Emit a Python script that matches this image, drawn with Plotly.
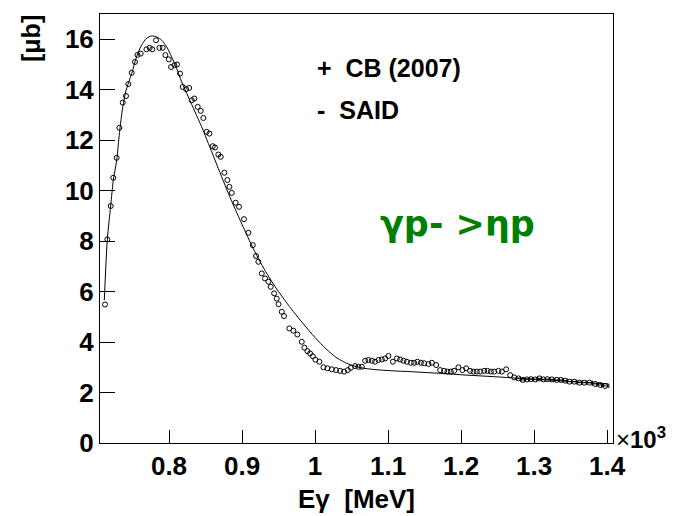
import plotly.graph_objects as go

# Crystal Barrel (2007) total cross section for gamma p -> eta p, photon energy in MeV
cb_energy = [
    712.4, 715.5, 720.2, 723.7, 728.3, 732.0, 736.6, 741.1, 744.3, 748.9,
    753.4, 756.8, 761.2, 769.1, 773.5, 777.1, 782.2, 786.9, 791.4, 795.0,
    799.7, 802.8, 807.4, 811.0, 815.1, 818.8, 823.5, 827.6, 831.1, 834.7,
    839.3, 843.4, 847.0, 851.6, 855.3, 859.9, 863.0, 867.6, 870.8, 875.8,
    879.9, 882.7, 885.9, 891.2, 895.9, 902.7, 908.7, 914.7, 919.2, 922.4,
    927.0, 931.5, 936.1, 939.3, 944.0, 947.5, 950.0, 954.4, 957.5, 964.8,
    970.3, 975.8, 981.8, 985.4, 989.5, 993.2, 996.9, 1000.5, 1005.9,
    1011.5, 1017.0, 1022.9, 1028.8, 1034.3, 1039.8, 1044.8, 1049.0, 1054.8,
    1059.4, 1064.0, 1068.6, 1073.1, 1077.7, 1082.2, 1086.8, 1091.4, 1096.0,
    1100.5, 1106.5, 1112.0, 1116.5, 1121.1, 1125.7, 1131.2, 1135.7, 1140.2,
    1144.9, 1149.4, 1155.3, 1159.9, 1165.8, 1171.3, 1176.7, 1181.3, 1185.9,
    1190.4, 1196.3, 1201.8, 1206.9, 1212.3, 1216.9, 1221.5, 1226.1, 1231.5,
    1236.1, 1240.7, 1245.3, 1251.1, 1255.8, 1261.7, 1267.2, 1272.6,
]
cb_sigma = [
    5.49, 8.07, 9.39, 10.51, 11.30, 12.49, 13.49, 13.75, 14.22, 14.67,
    15.10, 15.38, 15.43, 15.60, 15.66, 15.60, 15.96, 15.66, 15.66, 15.37,
    15.20, 14.90, 14.97, 15.00, 14.64, 14.11, 14.02, 14.07, 13.58, 13.65,
    13.32, 13.16, 12.88, 12.33, 12.26, 11.76, 11.71, 11.43, 11.34, 10.71,
    10.42, 10.15, 9.91, 9.52, 9.36, 8.87, 8.33, 7.84, 7.41, 7.18,
    6.72, 6.52, 6.39, 6.19, 5.93, 5.72, 5.50, 5.20, 5.03, 4.54,
    4.45, 4.30, 4.01, 3.78, 3.64, 3.55, 3.44, 3.30, 3.22,
    3.00, 2.96, 2.92, 2.89, 2.86, 2.83, 2.89, 2.98, 3.05,
    3.02, 3.02, 3.26, 3.29, 3.26, 3.22, 3.29, 3.31, 3.35,
    3.45, 3.22, 3.35, 3.31, 3.26, 3.22, 3.18, 3.18, 3.22,
    3.18, 3.16, 3.13, 3.18, 3.09, 2.89, 2.86, 2.83, 2.83,
    2.86, 3.00, 2.89, 2.96, 2.86, 2.83, 2.83, 2.83, 2.86,
    2.86, 2.83, 2.83, 2.86, 2.83, 2.92, 2.69, 2.60,
]

# Wider high-energy bins, drawn with their horizontal bin half-widths
cb_tail_energy = [
    1278.5, 1284.5, 1290.0, 1295.5, 1301.4, 1307.3, 1312.7, 1318.2, 1324.3,
    1331.1, 1336.6, 1342.5, 1348.4, 1354.8, 1362.1, 1368.5, 1375.8, 1383.6,
    1390.5, 1397.3,
]
cb_tail_sigma = [
    2.56, 2.50, 2.52, 2.53, 2.52, 2.56, 2.52, 2.53, 2.52,
    2.50, 2.50, 2.47, 2.43, 2.43, 2.39, 2.39, 2.39, 2.34,
    2.30, 2.26,
]
cb_tail_halfwidth = [
    2.5, 2.5, 2.5, 2.5, 2.5, 2.5, 2.5, 2.5, 2.5,
    3.0, 3.0, 3.0, 3.0, 3.5, 3.5, 3.5, 4.0, 4.0,
    4.5, 5.0,
]

# SAID partial-wave solution
said_energy = [
    711.4, 715.5, 720.1, 723.7, 728.3, 732.2, 736.6, 741.0, 748.9, 755.5,
    762.3, 769.1, 776.2, 783.2, 790.0, 796.8, 803.6, 810.5, 817.3, 826.5,
    835.6, 844.7, 853.9, 863.0, 872.1, 881.3, 890.0, 900.0, 910.0, 920.0,
    930.0, 940.0, 950.0, 960.0, 970.0, 984.0, 1000.0, 1015.0, 1030.0,
    1045.0, 1060.0, 1075.0, 1100.0, 1135.0, 1171.0, 1208.0, 1244.0,
    1281.0, 1317.0, 1354.0, 1390.0, 1402.0,
]
said_sigma = [
    5.66, 8.04, 9.39, 10.40, 11.20, 12.30, 13.30, 13.95, 14.64, 15.30,
    15.76, 16.03, 16.13, 16.09, 15.96, 15.70, 15.30, 14.84, 14.31, 13.71,
    13.12, 12.53, 11.87, 11.21, 10.55, 9.89, 9.31, 8.66, 8.03, 7.44,
    6.91, 6.43, 6.00, 5.60, 5.22, 4.72, 4.18, 3.73, 3.37,
    3.14, 3.00, 2.93, 2.87, 2.82, 2.76, 2.69, 2.63,
    2.56, 2.50, 2.43, 2.36, 2.34,
]

x_tick_values = [800, 900, 1000, 1100, 1200, 1300, 1400]
x_tick_labels = ["0.8", "0.9", "1", "1.1", "1.2", "1.3", "1.4"]
y_tick_values = [0, 2, 4, 6, 8, 10, 12, 14, 16]

FONT = "Liberation Sans, Arial, sans-serif"
marker_style = dict(symbol="circle-open", size=5, color="black", line=dict(width=1, color="black"))

fig = go.Figure()
fig.add_trace(go.Scatter(
    x=said_energy, y=said_sigma, mode="lines",
    line=dict(color="black", width=1, shape="spline", smoothing=0.8),
    name="SAID", showlegend=False,
))
fig.add_trace(go.Scatter(
    x=cb_energy, y=cb_sigma, mode="markers", marker=marker_style,
    name="CB (2007)", showlegend=False,
))
fig.add_trace(go.Scatter(
    x=cb_tail_energy, y=cb_tail_sigma, mode="markers", marker=marker_style,
    error_x=dict(type="data", array=cb_tail_halfwidth, color="black", thickness=1, width=2),
    name="CB (2007)", showlegend=False,
))

axis_common = dict(
    showline=True, linecolor="black", linewidth=1, mirror=True,
    showgrid=False, zeroline=False, ticks="inside", tickcolor="black", tickwidth=1,
    tickfont=dict(family=FONT, size=26, color="black", weight="bold"),
)
fig.update_xaxes(range=[705.5, 1408], tickvals=x_tick_values, ticktext=x_tick_labels,
                 ticklen=13, **axis_common)
fig.update_yaxes(range=[0, 17], tickvals=y_tick_values, ticklen=15, **axis_common)

text_font = dict(family=FONT, color="black", weight="bold")
fig.add_annotation(text="E\u03b3  [MeV]", xref="paper", yref="paper", x=0.5, y=0,
                   xanchor="center", yanchor="middle", yshift=-56, showarrow=False,
                   font=dict(size=26, **text_font))
fig.add_annotation(text="[\u03bcb]", xref="paper", yref="paper", x=0, y=1,
                   xanchor="center", yanchor="middle", xshift=-69, yshift=-25,
                   textangle=-90, showarrow=False, font=dict(size=25, **text_font))
fig.add_annotation(text="\u00d7<b>10<sup>3</sup></b>", xref="paper", yref="paper", x=1, y=0,
                   xanchor="left", yanchor="middle", xshift=1, yshift=5, showarrow=False,
                   font=dict(family=FONT, size=24, color="black"))
fig.add_annotation(text="+  CB (2007)", xref="x", yref="y", x=1000, y=14.85,
                   xanchor="left", yanchor="middle", showarrow=False,
                   font=dict(size=25, **text_font))
fig.add_annotation(text="-  SAID", xref="x", yref="y", x=1000, y=13.2,
                   xanchor="left", yanchor="middle", showarrow=False,
                   font=dict(size=25, **text_font))
fig.add_annotation(text="\u03b3p- >\u03b7p", xref="x", yref="y", x=1086, y=8.67,
                   xanchor="left", yanchor="middle", showarrow=False,
                   font=dict(family="DejaVu Sans, sans-serif", size=35, color="#008000",
                             weight="bold"))

fig.update_layout(
    width=677, height=516,
    margin=dict(l=100, r=64, t=14, b=73),
    paper_bgcolor="white", plot_bgcolor="white",
    showlegend=False,
)

fig.write_html("out.html")
